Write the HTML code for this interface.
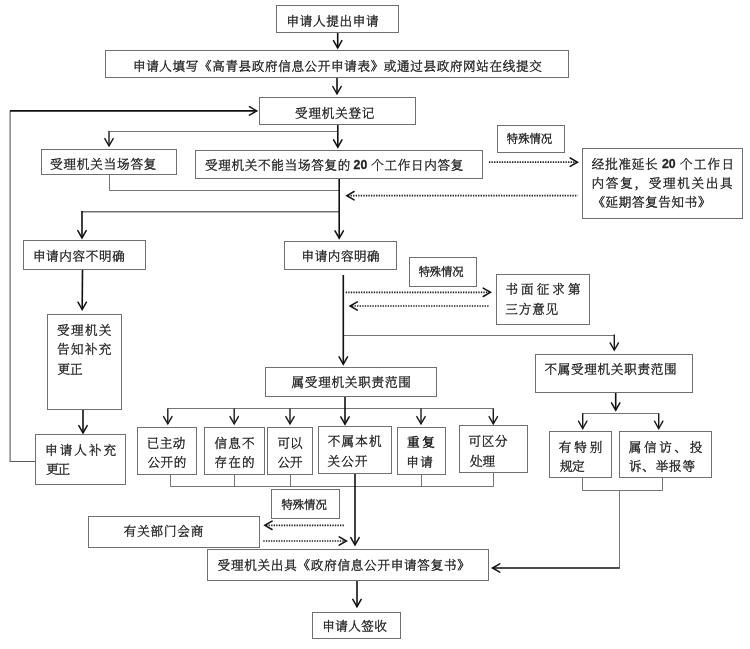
<!DOCTYPE html>
<html lang="zh-CN">
<head>
<meta charset="utf-8">
<title>政府信息公开申请流程图</title>
<style>
html,body{margin:0;padding:0;background:#fff;}
body{width:750px;height:649px;overflow:hidden;}
svg{display:block;will-change:transform;filter:grayscale(1);}
.b{fill:#fff;stroke:#707070;stroke-width:1;}
.t{font-family:"Liberation Sans", "Noto Serif CJK SC", serif;font-size:12.2px;font-weight:200;fill:#222;stroke:#222;stroke-width:0.42px;white-space:pre;}
.s{font-size:11.0px;font-weight:200;stroke-width:0.42px;}
.w{font-weight:400;stroke-width:0.55px;}
.bd{font-weight:bold;font-size:12.8px;stroke-width:0.3px;}
.k{fill:none;stroke:#111;stroke-width:1.6;}
.h{stroke-linejoin:miter;stroke-linecap:round;stroke-width:1.5;}
.k2{fill:none;stroke:#1a1a1a;stroke-width:1.4;}
.n{fill:none;stroke:#757575;stroke-width:1;}
.n2{fill:none;stroke:#727272;stroke-width:1.5;}
.n3{fill:none;stroke:#5a5a5a;stroke-width:1.1;}
.d{fill:none;stroke:#1c1c1c;stroke-width:1.7;stroke-dasharray:1.35 1.2;}
</style>
</head>
<body>
<svg width="750" height="649" viewBox="0 0 750 649">
<rect x="0" y="0" width="750" height="649" fill="#fff"/>
<path d="M109.5 174.5 L109.5 190.5 L339.5 190.5" class="n"/>
<path d="M109.5 131.5 L337.5 131.5" class="n"/>
<path d="M109.0 131.0 L109.0 146.0" class="k2"/>
<path d="M104.8 138.6 L109.0 145.9 L113.2 138.6" class="k2 h"/>
<path d="M81.2 211.7 L339.0 211.7" class="n2"/>
<path d="M343.5 335.5 L614.5 335.5" class="n"/>
<path d="M614.3 334.5 L614.3 350.0" class="k2"/>
<path d="M610.1 342.9 L614.3 350.2 L618.5 342.9" class="k2 h"/>
<path d="M167.5 408.5 L493.5 408.5" class="n"/>
<path d="M167.8 408.5 L167.8 424.0" class="k2"/>
<path d="M163.6 416.6 L167.8 423.9 L172.0 416.6" class="k2 h"/>
<path d="M234.2 408.5 L234.2 424.0" class="k2"/>
<path d="M230.0 416.6 L234.2 423.9 L238.4 416.6" class="k2 h"/>
<path d="M290.0 408.5 L290.0 424.0" class="k2"/>
<path d="M285.8 416.6 L290.0 423.9 L294.2 416.6" class="k2 h"/>
<path d="M421.0 408.5 L421.0 424.0" class="k2"/>
<path d="M416.8 416.6 L421.0 423.9 L425.2 416.6" class="k2 h"/>
<path d="M493.3 408.5 L493.3 424.0" class="k2"/>
<path d="M489.1 416.6 L493.3 423.9 L497.5 416.6" class="k2 h"/>
<path d="M170.5 474.5 L170.5 486.5 L493.5 486.5 L493.5 472.5" class="n"/>
<path d="M234.5 474.5 L234.5 486.5" class="n"/>
<path d="M290.5 474.5 L290.5 486.5" class="n"/>
<path d="M421.5 474.5 L421.5 486.5" class="n"/>
<path d="M582.5 413.5 L658.5 413.5" class="n"/>
<path d="M582.7 413.2 L582.7 428.5" class="k2"/>
<path d="M578.5 421.2 L582.7 428.5 L586.9 421.2" class="k2 h"/>
<path d="M658.7 413.2 L658.7 428.5" class="k2"/>
<path d="M654.5 421.2 L658.7 428.5 L662.9 421.2" class="k2 h"/>
<path d="M582.5 477.5 L582.5 490.5 L662.5 490.5 L662.5 477.5" class="n"/>
<path d="M619.5 490.5 L619.5 568.5" class="n"/>
<path d="M10.1 110.7 L10.1 461.5 L35.7 461.5" class="n3"/>
<path d="M337.7 32.3 L337.7 48.0" class="k"/>
<path d="M333.5 40.6 L337.7 47.9 L341.9 40.6" class="k h"/>
<path d="M337.0 77.7 L337.0 94.0" class="k"/>
<path d="M332.8 86.5 L337.0 93.8 L341.2 86.5" class="k h"/>
<path d="M10.0 110.9 L256.5 110.9" class="k"/>
<path d="M249.4 106.7 L256.7 110.9 L249.4 115.1" class="k h"/>
<path d="M337.8 124.3 L337.8 147.3" class="k"/>
<path d="M333.6 139.9 L337.8 147.2 L342.0 139.9" class="k h"/>
<path d="M339.2 178.3 L339.2 238.3" class="k"/>
<path d="M335.0 230.9 L339.2 238.2 L343.4 230.9" class="k h"/>
<path d="M82.0 211.0 L82.0 238.0" class="k"/>
<path d="M77.8 230.6 L82.0 237.9 L86.2 230.6" class="k h"/>
<path d="M82.5 269.3 L82.2 309.6" class="k"/>
<path d="M78.0 302.2 L82.2 309.5 L86.4 302.2" class="k h"/>
<path d="M83.0 409.7 L83.0 433.0" class="k"/>
<path d="M78.8 425.6 L83.0 432.9 L87.2 425.6" class="k h"/>
<path d="M343.3 275.0 L343.3 364.3" class="k"/>
<path d="M339.1 356.9 L343.3 364.2 L347.5 356.9" class="k h"/>
<path d="M345.0 396.7 L345.0 424.3" class="k"/>
<path d="M340.8 416.9 L345.0 424.2 L349.2 416.9" class="k h"/>
<path d="M615.7 392.3 L615.7 410.3" class="k"/>
<path d="M611.5 402.9 L615.7 410.2 L619.9 402.9" class="k h"/>
<path d="M355.0 474.0 L355.0 545.0" class="k"/>
<path d="M350.8 537.6 L355.0 544.9 L359.2 537.6" class="k h"/>
<path d="M357.0 580.3 L357.0 607.0" class="k"/>
<path d="M352.8 599.4 L357.0 606.7 L361.2 599.4" class="k h"/>
<path d="M619.5 568.0 L492.5 568.0" class="k"/>
<path d="M499.8 563.8 L492.5 568.0 L499.8 572.2" class="k h"/>
<path d="M489.0 162.2 L577.0 162.2" class="d"/>
<path d="M570.2 158.0 L577.5 162.2 L570.2 166.4" class="k h"/>
<path d="M348.0 195.7 L577.7 195.7" class="d"/>
<path d="M354.1 191.5 L346.8 195.7 L354.1 199.9" class="k h"/>
<path d="M345.7 292.4 L489.0 292.4" class="d"/>
<path d="M483.2 288.1 L490.5 292.3 L483.2 296.5" class="k h"/>
<path d="M352.0 306.0 L489.3 306.0" class="d"/>
<path d="M357.3 301.8 L350.0 306.0 L357.3 310.2" class="k h"/>
<path d="M266.0 525.3 L344.3 525.3" class="d"/>
<path d="M272.1 521.1 L264.8 525.3 L272.1 529.5" class="k h"/>
<path d="M263.3 541.0 L345.0 541.0" class="d"/>
<path d="M339.2 536.8 L346.5 541.0 L339.2 545.2" class="k h"/>
<rect x="276.5" y="5.5" width="122.0" height="27.0" class="b"/>
<rect x="105.5" y="50.5" width="463.0" height="27.0" class="b"/>
<rect x="259.5" y="97.5" width="156.0" height="27.0" class="b"/>
<rect x="41.5" y="149.5" width="135.0" height="25.0" class="b"/>
<rect x="195.5" y="150.5" width="287.0" height="28.0" class="b"/>
<rect x="497.5" y="125.5" width="67.0" height="27.0" class="b"/>
<rect x="582.5" y="148.5" width="160.0" height="70.0" class="b"/>
<rect x="23.5" y="240.5" width="122.0" height="29.0" class="b"/>
<rect x="284.5" y="241.5" width="112.0" height="28.0" class="b"/>
<rect x="409.5" y="257.5" width="67.0" height="29.0" class="b"/>
<rect x="496.5" y="274.5" width="93.0" height="50.0" class="b"/>
<rect x="47.5" y="314.5" width="74.0" height="95.0" class="b"/>
<rect x="265.5" y="367.5" width="171.0" height="29.0" class="b"/>
<rect x="535.5" y="354.5" width="157.0" height="38.0" class="b"/>
<rect x="137.5" y="427.5" width="59.0" height="47.0" class="b"/>
<rect x="204.5" y="427.5" width="60.0" height="47.0" class="b"/>
<rect x="267.5" y="427.5" width="45.0" height="47.0" class="b"/>
<rect x="318.5" y="426.5" width="73.0" height="47.0" class="b"/>
<rect x="397.5" y="427.5" width="48.0" height="47.0" class="b"/>
<rect x="459.5" y="425.5" width="68.0" height="47.0" class="b"/>
<rect x="549.5" y="431.5" width="62.0" height="46.0" class="b"/>
<rect x="619.5" y="431.5" width="92.0" height="46.0" class="b"/>
<rect x="271.5" y="489.5" width="68.0" height="29.0" class="b"/>
<rect x="88.5" y="516.5" width="171.0" height="31.0" class="b"/>
<rect x="207.5" y="549.5" width="281.0" height="31.0" class="b"/>
<rect x="312.5" y="612.5" width="88.0" height="26.0" class="b"/>
<rect x="35.5" y="434.5" width="90.0" height="50.0" class="b"/>
<text transform="translate(286.59 25.50) scale(1.03 1)" textLength="89.42" lengthAdjust="spacing" class="t">申请人提出申请</text>
<text transform="translate(132.93 70.50) scale(1.03 1)" textLength="396.89" lengthAdjust="spacing" class="t">申请人填写《高青县政府信息公开申请表》或通过县政府网站在线提交</text>
<text transform="translate(295.03 117.50) scale(1.03 1)" textLength="77.09" lengthAdjust="spacing" class="t">受理机关登记</text>
<text transform="translate(50.03 168.50) scale(1.03 1)" textLength="103.30" lengthAdjust="spacing" class="t">受理机关当场答复</text>
<text transform="translate(204.99 169.80) scale(1.03 1)" textLength="141.07" lengthAdjust="spacing" class="t">受理机关不能当场答复的</text>
<text transform="translate(360.40 169.40) scale(0.96 1)" text-anchor="middle" class="t bd">20</text>
<text transform="translate(371.13 169.80) scale(1.03 1)" textLength="89.42" lengthAdjust="spacing" class="t">个工作日内答复</text>
<text transform="translate(506.81 143.33) scale(1.03 1)" textLength="44.07" lengthAdjust="spacing" class="t s">特殊情况</text>
<text transform="translate(591.87 168.80) scale(1.03 1)" textLength="63.88" lengthAdjust="spacing" class="t">经批准延长</text>
<text transform="translate(668.85 168.40) scale(0.96 1)" text-anchor="middle" class="t bd">20</text>
<text transform="translate(679.99 168.80) scale(1.03 1)" textLength="52.43" lengthAdjust="spacing" class="t">个工作日</text>
<text transform="translate(591.59 187.50) scale(1.03 1)" textLength="136.99" lengthAdjust="spacing" class="t">内答复，受理机关出具</text>
<text transform="translate(592.39 206.80) scale(1.03 1)" textLength="114.66" lengthAdjust="spacing" class="t">《延期答复告知书》</text>
<text transform="translate(32.93 260.80) scale(1.03 1)" textLength="89.12" lengthAdjust="spacing" class="t">申请内容不明确</text>
<text transform="translate(301.59 261.10) scale(1.03 1)" textLength="75.82" lengthAdjust="spacing" class="t">申请内容明确</text>
<text transform="translate(418.64 276.33) scale(1.03 1)" textLength="43.68" lengthAdjust="spacing" class="t s">特殊情况</text>
<text transform="translate(505.45 294.10) scale(1.03 1)" textLength="72.91" lengthAdjust="spacing" class="t">书面征求第</text>
<text transform="translate(505.33 313.50) scale(1.03 1)" textLength="51.26" lengthAdjust="spacing" class="t">三方意见</text>
<text transform="translate(57.03 335.10) scale(1.03 1)" textLength="52.81" lengthAdjust="spacing" class="t">受理机关</text>
<text transform="translate(57.03 354.10) scale(1.03 1)" textLength="52.81" lengthAdjust="spacing" class="t">告知补充</text>
<text transform="translate(57.41 374.10) scale(1.03 1)" textLength="24.37" lengthAdjust="spacing" class="t">更正</text>
<text transform="translate(291.43 386.80) scale(1.03 1)" textLength="115.92" lengthAdjust="spacing" class="t">属受理机关职责范围</text>
<text transform="translate(544.45 374.10) scale(1.03 1)" textLength="128.25" lengthAdjust="spacing" class="t">不属受理机关职责范围</text>
<text transform="translate(45.05 454.50) scale(1.03 1)" textLength="69.03" lengthAdjust="spacing" class="t">申请人补充</text>
<text transform="translate(46.35 473.80) scale(1.03 1)" textLength="23.07" lengthAdjust="spacing" class="t">更正</text>
<text transform="translate(146.75 447.80) scale(1.03 1)" textLength="37.57" lengthAdjust="spacing" class="t">已主动</text>
<text transform="translate(147.55 467.10) scale(1.03 1)" textLength="37.57" lengthAdjust="spacing" class="t">公开的</text>
<text transform="translate(214.45 447.80) scale(1.03 1)" textLength="38.93" lengthAdjust="spacing" class="t">信息不</text>
<text transform="translate(214.45 467.10) scale(1.03 1)" textLength="38.93" lengthAdjust="spacing" class="t">存在的</text>
<text transform="translate(277.49 447.80) scale(1.03 1)" textLength="24.37" lengthAdjust="spacing" class="t">可以</text>
<text transform="translate(277.49 467.10) scale(1.03 1)" textLength="24.37" lengthAdjust="spacing" class="t">公开</text>
<text transform="translate(327.87 446.10) scale(1.03 1)" textLength="52.23" lengthAdjust="spacing" class="t">不属本机</text>
<text transform="translate(327.59 466.10) scale(1.03 1)" textLength="38.93" lengthAdjust="spacing" class="t">关公开</text>
<text transform="translate(406.97 447.33) scale(1.03 1)" textLength="26.99" lengthAdjust="spacing" class="t w">重复</text>
<text transform="translate(406.29 467.10) scale(1.03 1)" textLength="25.84" lengthAdjust="spacing" class="t">申请</text>
<text transform="translate(468.59 446.10) scale(1.03 1)" textLength="37.96" lengthAdjust="spacing" class="t">可区分</text>
<text transform="translate(469.89 465.50) scale(1.03 1)" textLength="24.48" lengthAdjust="spacing" class="t">处理</text>
<text transform="translate(558.75 451.80) scale(1.03 1)" textLength="42.23" lengthAdjust="spacing" class="t">有特别</text>
<text transform="translate(559.89 470.50) scale(1.03 1)" textLength="24.04" lengthAdjust="spacing" class="t">规定</text>
<text transform="translate(628.75 452.10) scale(1.03 1)" textLength="71.36" lengthAdjust="spacing" class="t">属信访、投</text>
<text transform="translate(628.99 471.10) scale(1.03 1)" textLength="64.17" lengthAdjust="spacing" class="t">诉、举报等</text>
<text transform="translate(281.48 509.03) scale(1.03 1)" textLength="43.97" lengthAdjust="spacing" class="t s">特殊情况</text>
<text transform="translate(123.75 536.10) scale(1.03 1)" textLength="77.18" lengthAdjust="spacing" class="t">有关部门会商</text>
<text transform="translate(217.59 569.50) scale(1.03 1)" textLength="244.95" lengthAdjust="spacing" class="t">受理机关出具《政府信息公开申请答复书》</text>
<text transform="translate(322.35 631.10) scale(1.03 1)" textLength="62.62" lengthAdjust="spacing" class="t">申请人签收</text>
</svg>
</body>
</html>
